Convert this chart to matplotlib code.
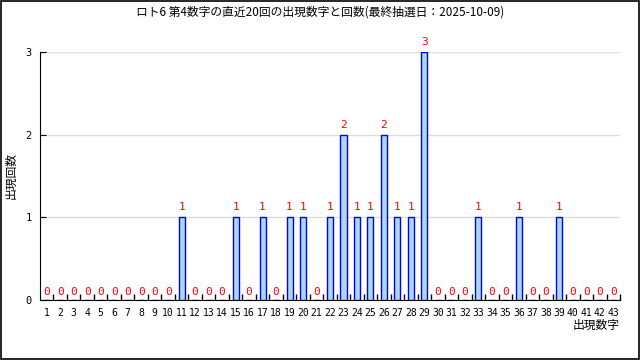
import matplotlib
matplotlib.use("Agg")
import matplotlib.pyplot as plt
from matplotlib.patches import Rectangle
import numpy as np

plt.rcParams['font.family'] = ['Noto Sans CJK JP', 'DejaVu Sans']

# 出現数字と回数
numbers = list(range(1, 44))
counts = [0, 0, 0, 0, 0, 0, 0, 0, 0, 0,
          1, 0, 0, 0, 1, 0, 1, 0, 1, 1,
          0, 1, 2, 1, 1, 2, 1, 1, 3, 0,
          0, 0, 1, 0, 0, 1, 0, 0, 1, 0,
          0, 0, 0]
title = "ロト6 第4数字の直近20回の出現数字と回数(最終抽選日：2025-10-09)"

fig = plt.figure(figsize=(6.4, 3.6), dpi=100)
ax = fig.add_axes([40 / 640, 1 - 300 / 360, 580 / 640, 248 / 360])

x = np.array(numbers)
ax.bar(x, counts, width=0.45, color='lightblue', edgecolor='blue', linewidth=1, zorder=3)

# 値ラベル
for xi, c in zip(x, counts):
    ypos = c + 0.06 if c > 0 else 0.04
    ax.text(xi, ypos, str(c), ha='center', va='bottom', color='red',
            fontsize=8, family=['DejaVu Sans Mono'], zorder=4)

ax.set_xlim(0.5, 43.5)
ax.set_ylim(0, 3)
ax.set_yticks([0, 1, 2, 3])
ax.set_xticks(x)
ax.set_xticklabels([str(n) for n in numbers], fontsize=7)
ax.set_xticks(np.arange(1.5, 44, 1.0), minor=True)
ax.tick_params(axis='x', which='major', length=0, pad=6)
ax.tick_params(axis='x', which='minor', direction='in', length=4, width=1)
ax.tick_params(axis='y', direction='in', length=4, labelsize=7.5, pad=6)
for lbl in ax.get_xticklabels() + ax.get_yticklabels():
    lbl.set_family(['DejaVu Sans Mono'])

ax.grid(axis='y', color='#dddddd', linewidth=1, zorder=0)
ax.spines['top'].set_visible(False)
ax.spines['right'].set_visible(False)

fig.text(11 / 640, 1 - 175 / 360, "出現回数", rotation=90, ha='center', va='center', fontsize=8.5)
fig.text(620 / 640, 1 - 325 / 360, "出現数字", ha='right', va='center', fontsize=8.5)
fig.text(0.5, 1 - 12 / 360, title, ha='center', va='center', fontsize=8.5)

fig.patches.append(Rectangle((0.001, 0.002), 0.997, 0.995, transform=fig.transFigure,
                             fill=False, edgecolor='black', linewidth=1.2))

fig.savefig("out.png", dpi=100)
